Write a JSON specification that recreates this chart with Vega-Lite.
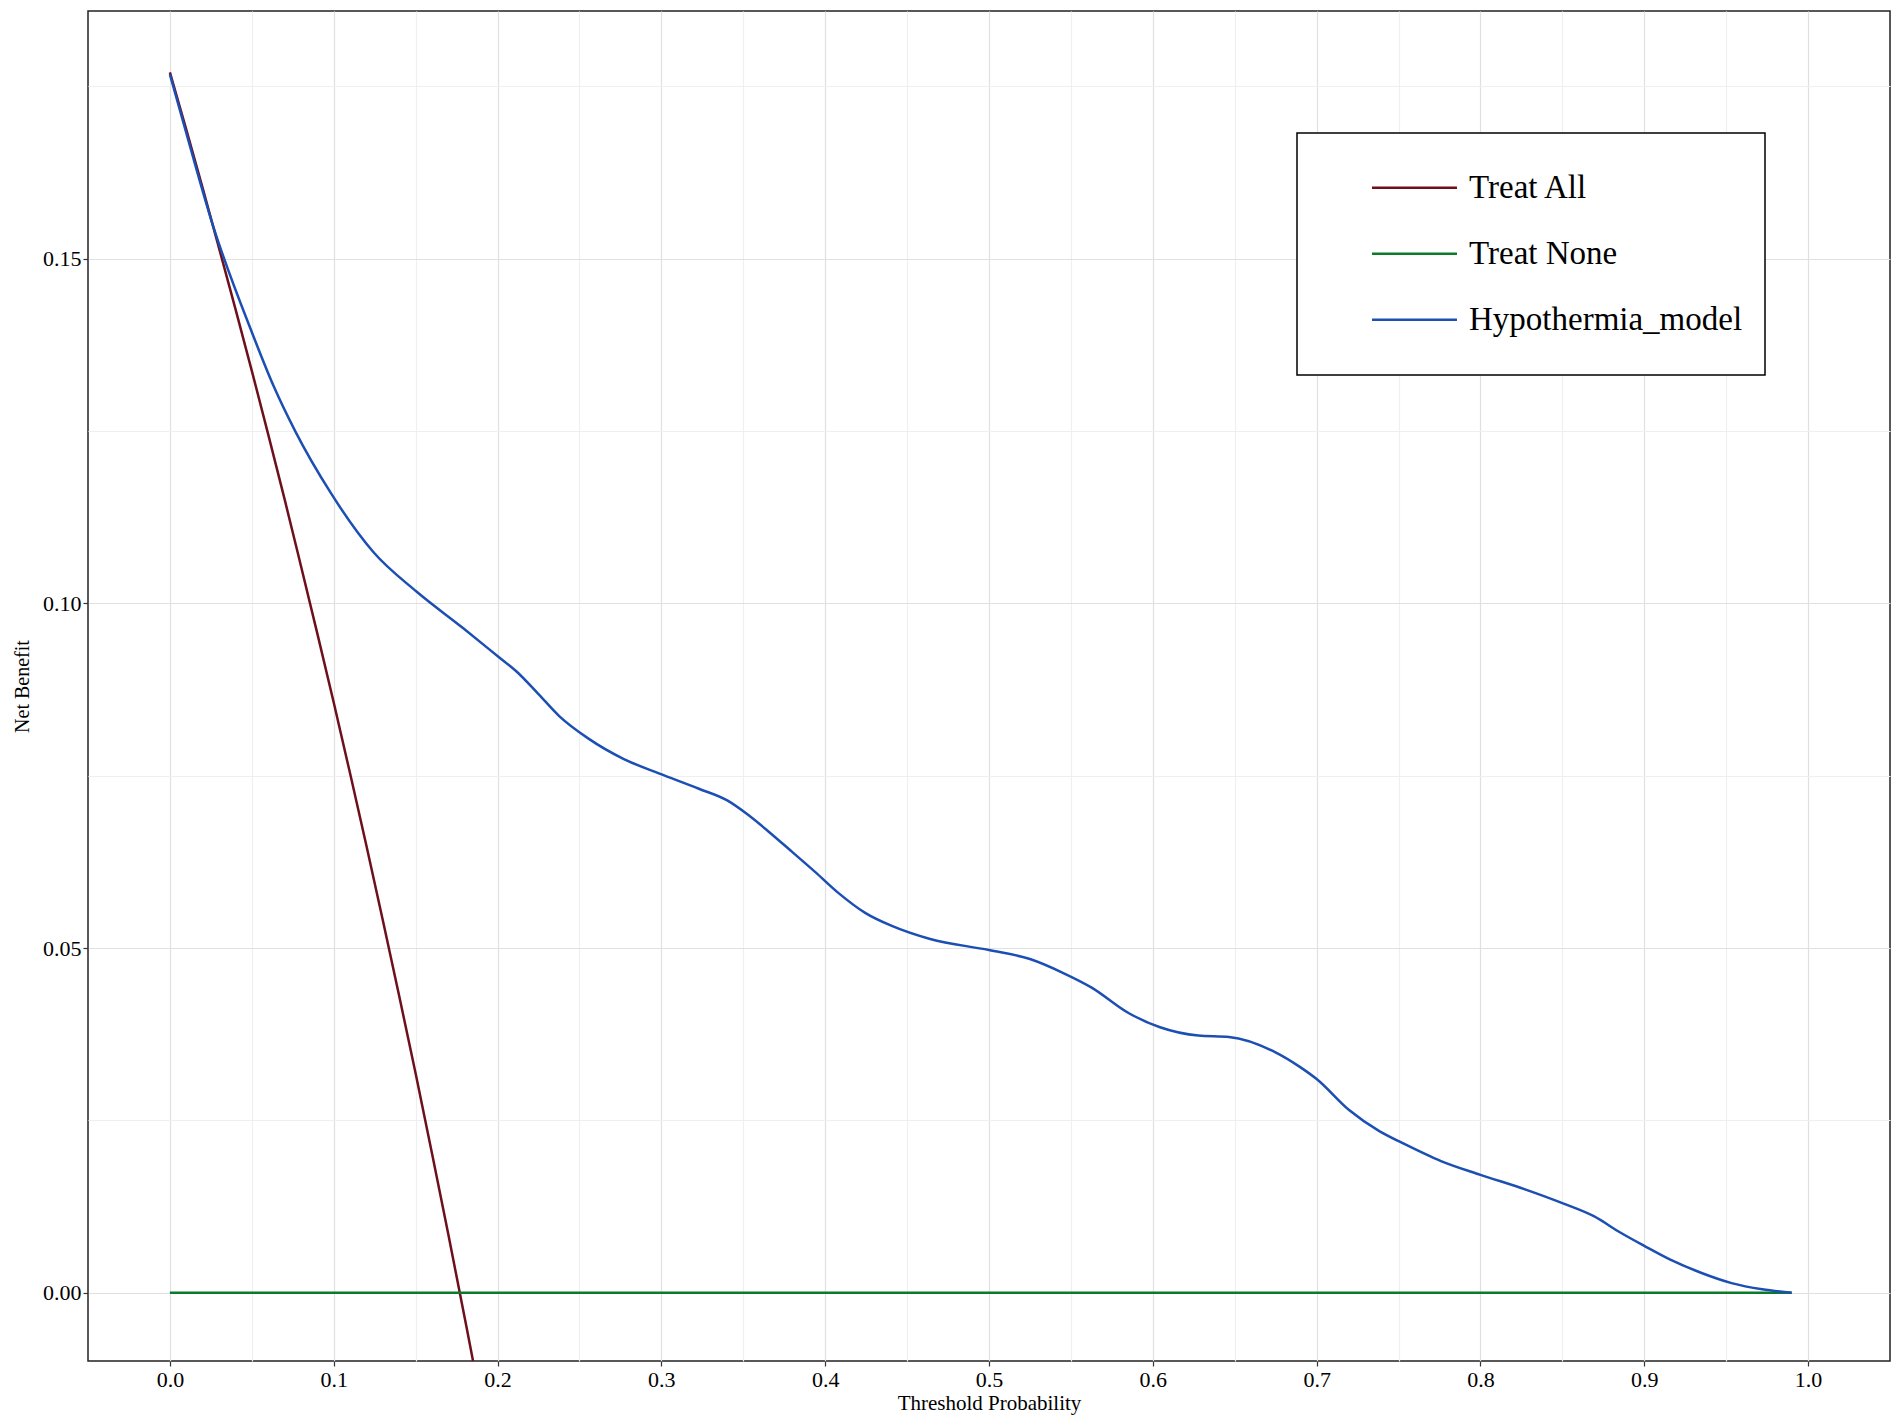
{
  "$schema": "https://vega.github.io/schema/vega-lite/v6.json",
  "width": 1802,
  "height": 1350,
  "autosize": "none",
  "padding": {"left": 88, "top": 11, "right": 12, "bottom": 66},
  "background": "white",
  "config": {
    "view": {"stroke": "#222222", "strokeWidth": 1.5},
    "font": "Liberation Serif",
    "axis": {
      "labelFont": "Liberation Serif",
      "titleFont": "Liberation Serif",
      "labelColor": "black",
      "titleColor": "black",
      "titleFontWeight": "normal",
      "domain": false,
      "tickColor": "#333333",
      "tickSize": 5,
      "tickWidth": 1.2
    },
    "legend": {"strokeWidth": 1.5}
  },
  "data": {
    "values": [
      {"series": "Treat All", "x": 0.00, "y": 0.1770},
      {"series": "Treat All", "x": 0.01, "y": 0.1687},
      {"series": "Treat All", "x": 0.02, "y": 0.1602},
      {"series": "Treat All", "x": 0.03, "y": 0.1515},
      {"series": "Treat All", "x": 0.04, "y": 0.1427},
      {"series": "Treat All", "x": 0.05, "y": 0.1337},
      {"series": "Treat All", "x": 0.06, "y": 0.1245},
      {"series": "Treat All", "x": 0.07, "y": 0.1151},
      {"series": "Treat All", "x": 0.08, "y": 0.1054},
      {"series": "Treat All", "x": 0.09, "y": 0.0956},
      {"series": "Treat All", "x": 0.10, "y": 0.0856},
      {"series": "Treat All", "x": 0.11, "y": 0.0753},
      {"series": "Treat All", "x": 0.12, "y": 0.0648},
      {"series": "Treat All", "x": 0.13, "y": 0.0540},
      {"series": "Treat All", "x": 0.14, "y": 0.0430},
      {"series": "Treat All", "x": 0.15, "y": 0.0318},
      {"series": "Treat All", "x": 0.16, "y": 0.0202},
      {"series": "Treat All", "x": 0.17, "y": 0.0084},
      {"series": "Treat All", "x": 0.18, "y": -0.0037},
      {"series": "Treat All", "x": 0.19, "y": -0.0160},
      {"series": "Treat All", "x": 0.20, "y": -0.0288},
      {"series": "Treat None", "x": 0.0, "y": 0},
      {"series": "Treat None", "x": 0.1, "y": 0},
      {"series": "Treat None", "x": 0.2, "y": 0},
      {"series": "Treat None", "x": 0.3, "y": 0},
      {"series": "Treat None", "x": 0.4, "y": 0},
      {"series": "Treat None", "x": 0.5, "y": 0},
      {"series": "Treat None", "x": 0.6, "y": 0},
      {"series": "Treat None", "x": 0.7, "y": 0},
      {"series": "Treat None", "x": 0.8, "y": 0},
      {"series": "Treat None", "x": 0.9, "y": 0},
      {"series": "Treat None", "x": 0.99, "y": 0},
      {"series": "Hypothermia_model", "x": 0.000, "y": 0.1767},
      {"series": "Hypothermia_model", "x": 0.012, "y": 0.1665},
      {"series": "Hypothermia_model", "x": 0.026, "y": 0.1550},
      {"series": "Hypothermia_model", "x": 0.0502, "y": 0.1392},
      {"series": "Hypothermia_model", "x": 0.0633, "y": 0.1315},
      {"series": "Hypothermia_model", "x": 0.0764, "y": 0.1250},
      {"series": "Hypothermia_model", "x": 0.0982, "y": 0.1160},
      {"series": "Hypothermia_model", "x": 0.1243, "y": 0.1074},
      {"series": "Hypothermia_model", "x": 0.1505, "y": 0.1017},
      {"series": "Hypothermia_model", "x": 0.1789, "y": 0.0964},
      {"series": "Hypothermia_model", "x": 0.2007, "y": 0.0922},
      {"series": "Hypothermia_model", "x": 0.2116, "y": 0.0901},
      {"series": "Hypothermia_model", "x": 0.2247, "y": 0.0869},
      {"series": "Hypothermia_model", "x": 0.2378, "y": 0.0836},
      {"series": "Hypothermia_model", "x": 0.2553, "y": 0.0804},
      {"series": "Hypothermia_model", "x": 0.2771, "y": 0.0774},
      {"series": "Hypothermia_model", "x": 0.2989, "y": 0.0753},
      {"series": "Hypothermia_model", "x": 0.3229, "y": 0.0731},
      {"series": "Hypothermia_model", "x": 0.3402, "y": 0.0714},
      {"series": "Hypothermia_model", "x": 0.3519, "y": 0.0695},
      {"series": "Hypothermia_model", "x": 0.3659, "y": 0.0668},
      {"series": "Hypothermia_model", "x": 0.3800, "y": 0.0639},
      {"series": "Hypothermia_model", "x": 0.3940, "y": 0.0610},
      {"series": "Hypothermia_model", "x": 0.4080, "y": 0.0580},
      {"series": "Hypothermia_model", "x": 0.4244, "y": 0.0551},
      {"series": "Hypothermia_model", "x": 0.4407, "y": 0.0532},
      {"series": "Hypothermia_model", "x": 0.4641, "y": 0.0513},
      {"series": "Hypothermia_model", "x": 0.5000, "y": 0.0497},
      {"series": "Hypothermia_model", "x": 0.5250, "y": 0.0484},
      {"series": "Hypothermia_model", "x": 0.5460, "y": 0.0463},
      {"series": "Hypothermia_model", "x": 0.5624, "y": 0.0443},
      {"series": "Hypothermia_model", "x": 0.5857, "y": 0.0405},
      {"series": "Hypothermia_model", "x": 0.6044, "y": 0.0385},
      {"series": "Hypothermia_model", "x": 0.6278, "y": 0.0373},
      {"series": "Hypothermia_model", "x": 0.6465, "y": 0.0371},
      {"series": "Hypothermia_model", "x": 0.6746, "y": 0.0349},
      {"series": "Hypothermia_model", "x": 0.6895, "y": 0.0328},
      {"series": "Hypothermia_model", "x": 0.7000, "y": 0.0310},
      {"series": "Hypothermia_model", "x": 0.7198, "y": 0.0265},
      {"series": "Hypothermia_model", "x": 0.7385, "y": 0.0234},
      {"series": "Hypothermia_model", "x": 0.7525, "y": 0.0217},
      {"series": "Hypothermia_model", "x": 0.7759, "y": 0.0191},
      {"series": "Hypothermia_model", "x": 0.8000, "y": 0.0171},
      {"series": "Hypothermia_model", "x": 0.8272, "y": 0.0150},
      {"series": "Hypothermia_model", "x": 0.8500, "y": 0.0130},
      {"series": "Hypothermia_model", "x": 0.8692, "y": 0.0111},
      {"series": "Hypothermia_model", "x": 0.8856, "y": 0.0087},
      {"series": "Hypothermia_model", "x": 0.9000, "y": 0.0068},
      {"series": "Hypothermia_model", "x": 0.9159, "y": 0.0048},
      {"series": "Hypothermia_model", "x": 0.9346, "y": 0.0029},
      {"series": "Hypothermia_model", "x": 0.9533, "y": 0.0014},
      {"series": "Hypothermia_model", "x": 0.9720, "y": 0.0005},
      {"series": "Hypothermia_model", "x": 0.9900, "y": 0.0000}
    ]
  },
  "encoding": {
    "x": {
      "field": "x",
      "type": "quantitative",
      "scale": {"domain": [-0.05, 1.05], "nice": false, "zero": false},
      "axis": {
        "title": "Threshold Probability",
        "titleFontSize": 21,
        "titlePadding": 2,
        "labelFontSize": 22,
        "labelPadding": 3,
        "values": [0, 0.05, 0.1, 0.15, 0.2, 0.25, 0.3, 0.35, 0.4, 0.45, 0.5, 0.55, 0.6, 0.65, 0.7, 0.75, 0.8, 0.85, 0.9, 0.95, 1.0],
        "labelExpr": "round(datum.value*100) % 10 == 0 ? format(datum.value, '.1f') : ''",
        "tickOpacity": {"condition": {"test": "round(datum.value*100) % 10 == 0", "value": 1}, "value": 0},
        "grid": true,
        "gridColor": {"condition": {"test": "round(datum.value*100) % 10 == 0", "value": "#e0e0e0"}, "value": "#efefef"},
        "gridWidth": 1.2
      }
    },
    "y": {
      "field": "y",
      "type": "quantitative",
      "scale": {"domain": [-0.0099, 0.1859], "nice": false, "zero": false},
      "axis": {
        "title": "Net Benefit",
        "titleFontSize": 20,
        "titleX": -56,
        "labelFontSize": 22,
        "labelPadding": 2,
        "values": [0, 0.025, 0.05, 0.075, 0.1, 0.125, 0.15, 0.175],
        "labelExpr": "round(datum.value*1000) % 50 == 0 ? format(datum.value, '.2f') : ''",
        "tickOpacity": {"condition": {"test": "round(datum.value*1000) % 50 == 0", "value": 1}, "value": 0},
        "grid": true,
        "gridColor": {"condition": {"test": "round(datum.value*1000) % 50 == 0", "value": "#e0e0e0"}, "value": "#efefef"},
        "gridWidth": 1.2
      }
    },
    "color": {
      "field": "series",
      "type": "nominal",
      "scale": {
        "domain": ["Treat All", "Treat None", "Hypothermia_model"],
        "range": ["#6e0f1c", "#0b7a2a", "#1c4fb3"]
      },
      "legend": {
        "orient": "none",
        "legendX": 1209,
        "legendY": 122,
        "title": null,
        "symbolType": "M-4,0H4",
        "symbolSize": 451,
        "symbolStrokeWidth": 2.5,
        "symbolOffset": 79,
        "labelOffset": 38,
        "labelFont": "Liberation Serif",
        "labelFontSize": 33,
        "labelColor": "black",
        "labelLimit": 600,
        "clipHeight": 65.5,
        "rowPadding": 0,
        "padding": 22,
        "strokeColor": "black",
        "fillColor": "white"
      }
    }
  },
  "layer": [
    {
      "transform": [{"filter": "datum.series != 'Hypothermia_model'"}],
      "mark": {"type": "line", "clip": true, "strokeWidth": 2.5, "interpolate": "monotone"}
    },
    {
      "transform": [{"filter": "datum.series == 'Hypothermia_model'"}],
      "mark": {"type": "line", "clip": true, "strokeWidth": 2.5, "interpolate": "monotone"}
    }
  ]
}
